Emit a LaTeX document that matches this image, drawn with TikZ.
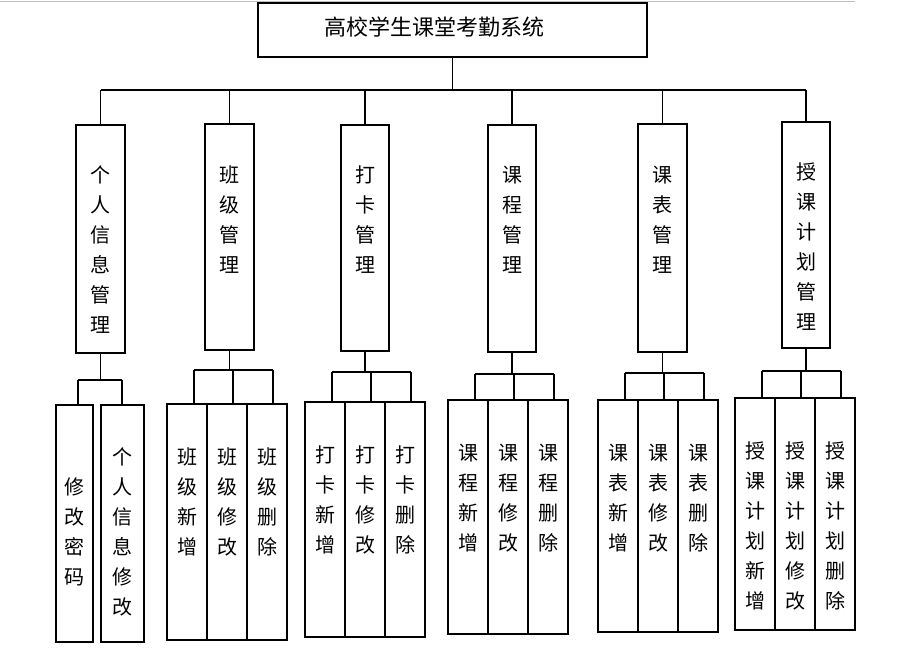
\documentclass[tikz,border=0pt]{standalone}
\usepackage{fontspec}
\setmainfont{Noto Sans CJK SC}
\begin{document}
\begin{tikzpicture}[x=1pt,y=-1pt,line width=1.6pt,
  bx/.style={draw,inner sep=0pt},
  vt/.style={anchor=north,align=center,font=\fontsize{20}{30}\selectfont,inner sep=0pt}]
\useasboundingbox (0,0) rectangle (920,656);
\draw[gray!50,line width=0.6pt] (0,1) -- (855,1);
\newcommand{\txt}[4]{\node[vt] (#1) at (#2,#3) {#4};}
\node[bx,minimum width=389,minimum height=54] (root) at (452.5,30) {};
\node[font=\fontsize{22}{26}\selectfont,inner sep=0pt] (roott) at (434,27) {高校学生课堂考勤系统};
% level 2
\node[bx,minimum width=49,minimum height=228] (a) at (100.5,239) {};
\node[bx,minimum width=49,minimum height=226] (b) at (229.5,237) {};
\node[bx,minimum width=48,minimum height=226] (c) at (365,238) {};
\node[bx,minimum width=48,minimum height=227] (d) at (512,238.5) {};
\node[bx,minimum width=49,minimum height=228] (e) at (662.5,238) {};
\node[bx,minimum width=48,minimum height=226] (f) at (806,235) {};
\txt{at}{100.5}{165}{个\\人\\信\\息\\管\\理}
\txt{bt}{229.5}{165}{班\\级\\管\\理}
\txt{ct}{365}{165}{打\\卡\\管\\理}
\txt{dt}{512}{165}{课\\程\\管\\理}
\txt{et}{662.5}{165}{课\\表\\管\\理}
\txt{ft}{806}{162}{授\\课\\计\\划\\管\\理}
\coordinate (bus) at (452.5,90);
\draw (root.south) -- (bus);
\draw (a.north |- bus) -- (f.north |- bus);
\foreach \n in {a,b,c,d,e,f}{\draw (\n.north |- bus) -- (\n.north);}
% level 3
\node[bx,minimum width=37,minimum height=237] (a1) at (74.5,523.5) {};
\node[bx,minimum width=43,minimum height=237] (a2) at (122.5,523.5) {};
\txt{a1t}{74.5}{477}{修\\改\\密\\码}
\txt{a2t}{122.5}{447}{个\\人\\信\\息\\修\\改}
\draw (a.south) -- (100.5,380); \draw (78,380) -- (122,380);
\draw (78,380) -- (78,405); \draw (122,380) -- (122,405);
\foreach \n/\px/\l/\by/\t/\bo/\ta/\tb/\tc in {
 b/229.5/167/370/404/640/{班\\级\\新\\增}/{班\\级\\修\\改}/{班\\级\\删\\除},
 c/365/305/372/402/637/{打\\卡\\新\\增}/{打\\卡\\修\\改}/{打\\卡\\删\\除},
 d/512/448/374/400/634/{课\\程\\新\\增}/{课\\程\\修\\改}/{课\\程\\删\\除},
 e/662.5/598/373/400/632/{课\\表\\新\\增}/{课\\表\\修\\改}/{课\\表\\删\\除},
 f/806/735/371/398/630/{授\\课\\计\\划\\新\\增}/{授\\课\\计\\划\\修\\改}/{授\\课\\计\\划\\删\\除}}{
  \node[bx,minimum width=40,minimum height={\bo-\t}] (\n1) at (\l+20,{(\t+\bo)/2}) {};
  \node[bx,minimum width=40,minimum height={\bo-\t}] (\n2) at (\l+60,{(\t+\bo)/2}) {};
  \node[bx,minimum width=40,minimum height={\bo-\t}] (\n3) at (\l+100,{(\t+\bo)/2}) {};
  \node[vt] (\n1t) at (\l+20,\t+43) {\ta};
  \node[vt] (\n2t) at (\l+60,\t+43) {\tb};
  \node[vt] (\n3t) at (\l+100,\t+43) {\tc};
  \draw (\n.south) -- (\px,\by);
  \draw (\l+27,\by) -- (\l+106,\by);
  \draw (\l+27,\by) -- (\l+27,\t);
  \draw (\l+66,\by) -- (\l+66,\t);
  \draw (\l+106,\by) -- (\l+106,\t);
}
\end{tikzpicture}
\end{document}
